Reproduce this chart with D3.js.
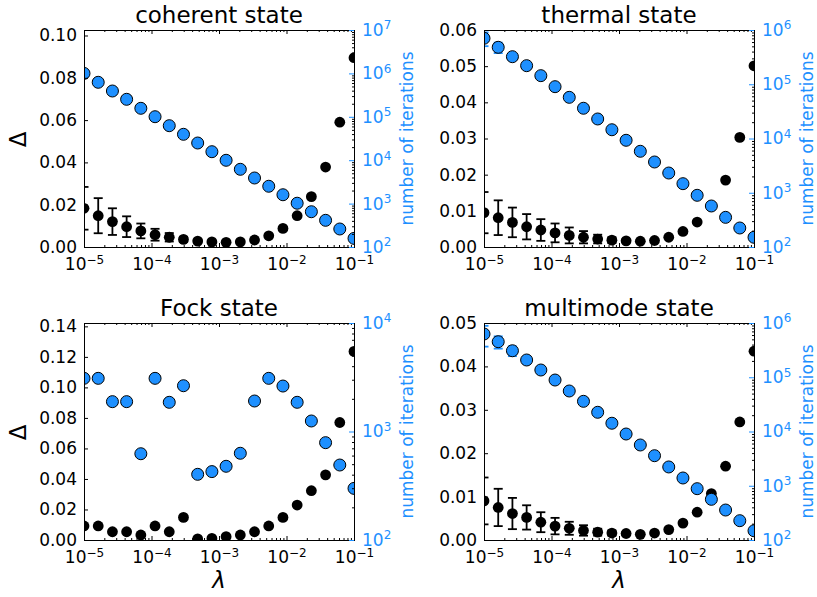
<!DOCTYPE html>
<html><head><meta charset="utf-8">
<script src="https://cdn.jsdelivr.net/npm/d3@7"></script>
<style>body{margin:0;background:#fff} text{font-family:"DejaVu Sans",sans-serif}</style>
</head><body><svg id="c" width="817" height="597"></svg>
<script>
// ---------- data ----------
const lambdaValues = [1.0e-5, 1.624e-5, 2.637e-5, 4.281e-5, 6.952e-5, 1.1288e-4, 1.833e-4, 2.9764e-4, 4.8329e-4, 7.8476e-4,
  1.2743e-3, 2.0691e-3, 3.3598e-3, 5.4556e-3, 8.8587e-3, 1.4384e-2, 2.3357e-2, 3.7927e-2, 6.1585e-2, 1.0e-1];

const coherentDelta = [0.0183, 0.0148, 0.0120, 0.0096, 0.0076, 0.0058, 0.0046, 0.0036, 0.0028, 0.0024,
  0.0022, 0.0024, 0.0033, 0.0053, 0.0088, 0.0148, 0.0238, 0.0378, 0.0590, 0.0895];
const coherentDeltaErr = [0.0101, 0.0083, 0.0063, 0.0049, 0.0035, 0.0028, 0.0020, 0.0012, 0.0007, 0.0004,
  0.0003, 0.0003, 0.0003, 0.0002, 0.0002, 0.0002, 0.0002, 0.0002, 0.0002, 0.0002];
const coherentIter = [1000000, 624000, 393000, 253000, 157000, 100500, 62400, 39500, 24900, 15700,
  9950, 6170, 3890, 2510, 1600, 1020, 650, 412, 260, 158];

const thermalDelta = [0.0095, 0.0081, 0.0068, 0.0056, 0.0047, 0.0039, 0.0032, 0.0027, 0.0022, 0.0019,
  0.0017, 0.0016, 0.0018, 0.0027, 0.0043, 0.0069, 0.0113, 0.0185, 0.0303, 0.0501];
const thermalDeltaErr = [0.0057, 0.0048, 0.0041, 0.0035, 0.0030, 0.0026, 0.0022, 0.0017, 0.0012, 0.0008,
  0.0004, 0.0003, 0.0003, 0.0002, 0.0002, 0.0002, 0.0002, 0.0002, 0.0002, 0.0002];
const thermalIter = [703000, 480000, 322000, 220000, 144000, 90200, 57400, 36100, 22900, 14500,
  9270, 5810, 3690, 2310, 1470, 897, 570, 352, 224, 151];
const thermalIterErr = [200000, 105000, 40000, 0, 0, 0, 0, 0, 0, 0, 0, 0, 0, 0, 0, 0, 0, 0, 0, 0];

const fockDelta = [0.0092, 0.0092, 0.0054, 0.0054, 0.0033, 0.0092, 0.0054, 0.0148, 0.0007, 0.0011,
  0.0022, 0.0033, 0.0054, 0.0092, 0.0148, 0.0229, 0.0323, 0.0427, 0.0770, 0.1236];
const fockIter = [3090, 3090, 1884, 1884, 624, 3090, 1858, 2642, 403, 427,
  478, 630, 1910, 3090, 2624, 1858, 1250, 789, 491, 299];

const multimodeDelta = [0.0090, 0.0075, 0.0061, 0.0052, 0.0041, 0.0032, 0.0027, 0.0022, 0.0018, 0.0016,
  0.0015, 0.0013, 0.0016, 0.0024, 0.0039, 0.0064, 0.0107, 0.0170, 0.0272, 0.0435];
const multimodeDeltaErr = [0.0054, 0.0043, 0.0036, 0.0028, 0.0023, 0.0019, 0.0015, 0.0012, 0.0008, 0.0006,
  0.0003, 0.0003, 0.0003, 0.0002, 0.0002, 0.0002, 0.0002, 0.0002, 0.0002, 0.0002];
const multimodeIter = [627000, 452000, 308000, 208000, 136000, 88900, 55800, 36000, 22600, 14200,
  8990, 5640, 3580, 2220, 1390, 883, 562, 357, 227, 148];
const multimodeIterErr = [260000, 115000, 63000, 0, 0, 0, 0, 0, 0, 0, 0, 0, 0, 0, 0, 0, 0, 0, 0, 0];

const xTickValues = [1e-5, 1e-4, 1e-3, 1e-2, 1e-1];
const coherentDeltaTicks = [0, 0.02, 0.04, 0.06, 0.08, 0.10];
const thermalDeltaTicks = [0, 0.01, 0.02, 0.03, 0.04, 0.05, 0.06];
const fockDeltaTicks = [0, 0.02, 0.04, 0.06, 0.08, 0.10, 0.12, 0.14];
const multimodeDeltaTicks = [0, 0.01, 0.02, 0.03, 0.04, 0.05];
const iterTicks7 = [1e2, 1e3, 1e4, 1e5, 1e6, 1e7];
const iterTicks6 = [1e2, 1e3, 1e4, 1e5, 1e6];
const iterTicks4 = [1e2, 1e3, 1e4];
const titles = ["coherent state", "thermal state", "Fock state", "multimode state"];

// ---------- layout ----------
const BLUE = "#1E90FF";
const W = 270, H = 217;
const panels = [
  {title: titles[0], left: 84, top: 30, delta: coherentDelta, err: coherentDeltaErr, iter: coherentIter, iterErr: null,
   dMax: 0.1026, dTicks: coherentDeltaTicks, iMax: 1e7, iTicks: iterTicks7, showDelta: true, showLambda: false},
  {title: titles[1], left: 484, top: 30, delta: thermalDelta, err: thermalDeltaErr, iter: thermalIter, iterErr: thermalIterErr,
   dMax: 0.06, dTicks: thermalDeltaTicks, iMax: 1e6, iTicks: iterTicks6, showDelta: false, showLambda: false},
  {title: titles[2], left: 84, top: 323, delta: fockDelta, err: null, iter: fockIter, iterErr: null,
   dMax: 0.1422, dTicks: fockDeltaTicks, iMax: 1e4, iTicks: iterTicks4, showDelta: true, showLambda: true},
  {title: titles[3], left: 484, top: 323, delta: multimodeDelta, err: multimodeDeltaErr, iter: multimodeIter, iterErr: multimodeIterErr,
   dMax: 0.05, dTicks: multimodeDeltaTicks, iMax: 1e6, iTicks: iterTicks6, showDelta: false, showLambda: true}
];

const svg = d3.select("#c");
const FS = 17;

function supLabel(sel, base, exp, anchor) {
  sel.text(null);
  sel.attr("text-anchor", anchor);
  sel.append("tspan").text(base);
  sel.append("tspan").attr("font-size", 12).attr("dy", "-0.55em").text(exp);
}

panels.forEach((p, pi) => {
  const L = p.left, T = p.top, R = L + W, B = T + H;
  const x = d3.scaleLog().domain([1e-5, 1e-1]).range([L, R]);
  const yL = d3.scaleLinear().domain([0, p.dMax]).range([B, T]);
  const yR = d3.scaleLog().domain([1e2, p.iMax]).range([B, T]);

  const clipId = "clip" + pi;
  svg.append("clipPath").attr("id", clipId).append("rect")
    .attr("x", L).attr("y", T).attr("width", W).attr("height", H);
  const g = svg.append("g").attr("clip-path", `url(#${clipId})`);

  // black error bars
  if (p.err) {
    p.err.forEach((e, i) => {
      if (!e) return;
      const cx = x(lambdaValues[i]);
      const y1 = yL(p.delta[i] - e), y2 = yL(p.delta[i] + e);
      g.append("line").attr("x1", cx).attr("x2", cx).attr("y1", y1).attr("y2", y2)
        .attr("stroke", "#000").attr("stroke-width", 1.8);
      [y1, y2].forEach(yy => g.append("line").attr("x1", cx - 4.5).attr("x2", cx + 4.5)
        .attr("y1", yy).attr("y2", yy).attr("stroke", "#000").attr("stroke-width", 1.8));
    });
  }
  // black points
  g.selectAll(null).data(p.delta).enter().append("circle")
    .attr("cx", (d, i) => x(lambdaValues[i])).attr("cy", d => yL(d))
    .attr("r", 5.4).attr("fill", "#000");

  // blue error bars
  if (p.iterErr) {
    p.iterErr.forEach((e, i) => {
      if (!e) return;
      const cx = x(lambdaValues[i]);
      const y1 = yR(p.iter[i] - e), y2 = yR(p.iter[i] + e);
      g.append("line").attr("x1", cx).attr("x2", cx).attr("y1", y1).attr("y2", y2)
        .attr("stroke", BLUE).attr("stroke-width", 1.8);
      [y1, y2].forEach(yy => g.append("line").attr("x1", cx - 4.5).attr("x2", cx + 4.5)
        .attr("y1", yy).attr("y2", yy).attr("stroke", BLUE).attr("stroke-width", 1.8));
    });
  }
  // blue points
  g.selectAll(null).data(p.iter).enter().append("circle")
    .attr("cx", (d, i) => x(lambdaValues[i])).attr("cy", d => yR(d))
    .attr("r", 6).attr("fill", BLUE).attr("stroke", "#000").attr("stroke-width", 1);

  // frame
  svg.append("rect").attr("x", L + 0.5).attr("y", T + 0.5).attr("width", W).attr("height", H)
    .attr("fill", "none").attr("stroke", "#000").attr("stroke-width", 1);

  // x axes (bottom with labels, top without)
  const minorX = [];
  for (let e = -5; e < -1; e++) for (let m = 2; m <= 9; m++) minorX.push(m * Math.pow(10, e));
  const xb = svg.append("g").attr("transform", `translate(0,${B})`)
    .call(d3.axisBottom(x).tickValues(xTickValues).tickSizeInner(-4).tickSizeOuter(0).tickPadding(7));
  xb.select(".domain").remove();
  xb.selectAll("text").attr("font-size", FS).attr("fill", "#000").attr("dy", "0.95em")
    .each(function(d) { supLabel(d3.select(this), "10", "\u2212" + Math.round(-Math.log10(d)), "middle"); });
  const xbm = svg.append("g").attr("transform", `translate(0,${B})`)
    .call(d3.axisBottom(x).tickValues(minorX).tickSizeInner(-2).tickSizeOuter(0).tickFormat(""));
  xbm.select(".domain").remove();
  const xt = svg.append("g").attr("transform", `translate(0,${T})`)
    .call(d3.axisTop(x).tickValues(xTickValues).tickSizeInner(-4).tickSizeOuter(0).tickFormat(""));
  xt.select(".domain").remove();
  const xtm = svg.append("g").attr("transform", `translate(0,${T})`)
    .call(d3.axisTop(x).tickValues(minorX).tickSizeInner(-2).tickSizeOuter(0).tickFormat(""));
  xtm.select(".domain").remove();

  // left axis
  const yl = svg.append("g").attr("transform", `translate(${L},0)`)
    .call(d3.axisLeft(yL).tickValues(p.dTicks).tickSizeInner(-4).tickSizeOuter(0).tickPadding(7).tickFormat(d3.format(".2f")));
  yl.select(".domain").remove();
  yl.selectAll("text").attr("font-size", FS).attr("fill", "#000");

  // right axis (log)
  const maxE = Math.round(Math.log10(p.iMax));
  const minorY = [];
  for (let e = 2; e < maxE; e++) for (let m = 2; m <= 9; m++) minorY.push(m * Math.pow(10, e));
  const yr = svg.append("g").attr("transform", `translate(${R},0)`)
    .call(d3.axisRight(yR).tickValues(p.iTicks).tickSizeInner(-5).tickSizeOuter(0).tickPadding(8));
  yr.select(".domain").remove();
  yr.selectAll("line").attr("stroke", BLUE);
  yr.selectAll("text").attr("font-size", FS).attr("fill", BLUE)
    .each(function(d) { supLabel(d3.select(this), "10", String(Math.round(Math.log10(d))), "start"); });
  const yrm = svg.append("g").attr("transform", `translate(${R},0)`)
    .call(d3.axisRight(yR).tickValues(minorY).tickSizeInner(-2).tickSizeOuter(0).tickFormat(""));
  yrm.select(".domain").remove();

  // title
  svg.append("text").attr("x", L + W / 2).attr("y", T - 7).attr("text-anchor", "middle")
    .attr("font-size", 23).attr("fill", "#000").text(p.title);

  // right label
  svg.append("text").attr("transform", `translate(${R + 59},${T + H / 2}) rotate(-90)`)
    .attr("text-anchor", "middle").attr("font-size", FS).attr("fill", BLUE).text("number of iterations");

  if (p.showDelta) {
    svg.append("text").attr("transform", `translate(${L - 58},${T + H / 2 + 1}) rotate(-90)`)
      .attr("text-anchor", "middle").attr("font-size", 23).attr("fill", "#000").text("\u0394");
  }
  if (p.showLambda) {
    svg.append("text").attr("x", L + W / 2).attr("y", B + 48).attr("text-anchor", "middle")
      .attr("font-size", 23).attr("font-style", "italic").attr("fill", "#000").text("\u03BB");
  }
});
</script></body></html>
